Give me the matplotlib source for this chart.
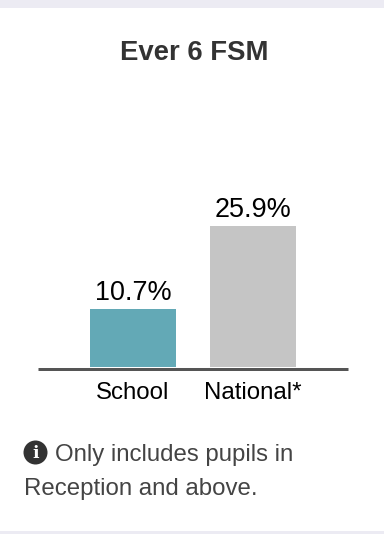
import matplotlib
matplotlib.use("Agg")
import matplotlib.pyplot as plt
from matplotlib.patches import Circle

categories = ["School", "National*"]
values = [10.7, 25.9]
value_labels = ["10.7%", "25.9%"]
bar_colors = ["#63a9b6", "#c5c5c5"]

W, H = 384, 534
plt.rcParams['font.family'] = ['Liberation Sans', 'DejaVu Sans']
px = 72 / 100  # font sizes given in pixels

fig = plt.figure(figsize=(W / 100, H / 100), dpi=100, facecolor="#ecebf3")

# page layer in pixel coordinates
bg = fig.add_axes([0, 0, 1, 1])
bg.set_xlim(0, W)
bg.set_ylim(H, 0)
bg.axis("off")
bg.add_patch(plt.Rectangle((0, 8), W, 523, facecolor="white", edgecolor="none"))

bg.text(194, 52.5, "Ever 6 FSM", ha="center", va="center", fontsize=27.5 * px,
        fontweight="bold", color="#333333")

# info icon
bg.add_patch(Circle((35.5, 452.5), 12, facecolor="#333333", edgecolor="none"))
bg.text(35.5, 453, "i", ha="center", va="center", fontsize=17 * px, fontweight="bold",
        family="DejaVu Serif", color="white")
bg.text(55, 455, "Only includes pupils in", ha="left", va="center",
        fontsize=24 * px, color="#444444")
bg.text(24, 489, "Reception and above.", ha="left", va="center",
        fontsize=24 * px, color="#444444")

# chart
left, right, top, base = 38, 348, 150, 367
ax = fig.add_axes([left / W, 1 - base / H, (right - left) / W, (base - top) / H])
ax.patch.set_alpha(0)
# moving the spine resets the axis, so do it before the ticks are set
ax.spines["bottom"].set_position(("outward", 1.5 * px))
x = range(len(categories))
bars = ax.bar(x, values, width=86 / 120, color=bar_colors)
ax.set_xlim((left - 133) / 120, (right - 133) / 120)
ax.set_ylim(0, (base - top) / 5.45)
ax.set_yticks([])
ax.set_xticks(list(x))
ax.set_xticklabels(categories, fontsize=24 * px, color="black")
ax.tick_params(axis="x", length=0, pad=10)
for side in ["top", "left", "right"]:
    ax.spines[side].set_visible(False)
ax.spines["bottom"].set_linewidth(3 * px)
ax.spines["bottom"].set_color("#555555")
ax.spines["bottom"].set_capstyle("butt")
for b, lab in zip(bars, value_labels):
    ax.annotate(lab, (b.get_x() + b.get_width() / 2, b.get_height()),
                xytext=(0, 2), textcoords="offset points", ha="center", va="bottom",
                fontsize=27 * px, color="black")

fig.savefig("out.png", dpi=100, facecolor=fig.get_facecolor())
